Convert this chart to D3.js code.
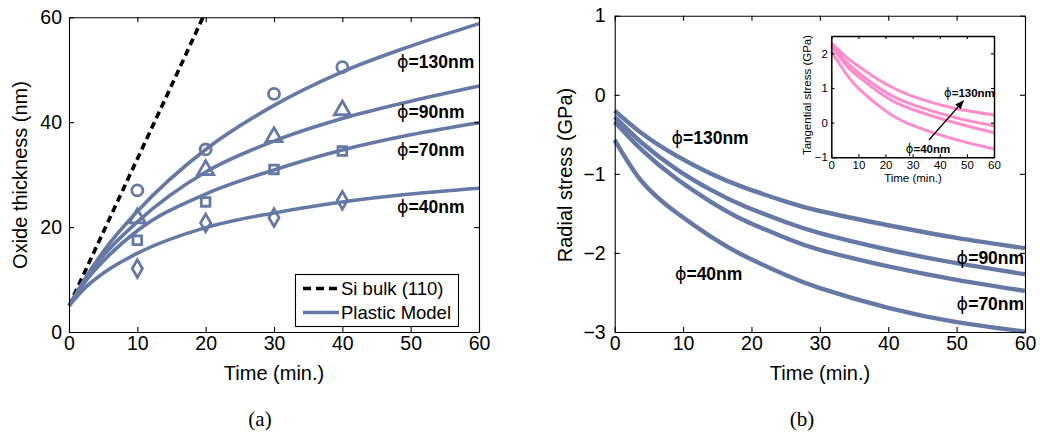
<!DOCTYPE html>
<html>
<head>
<meta charset="utf-8">
<script src="https://cdn.jsdelivr.net/npm/d3@7"></script>
<style>
  body { margin: 0; background: #fff; }
  text { font-family: "Liberation Sans", Arial, sans-serif; fill: #000; }
</style>
</head>
<body>
<div id="chart"></div>
<script>
// ---- data ----
// (a) oxide thickness, plastic model fits
var fitTime = [0, 2.5, 5, 10, 20, 30, 40, 50, 60];
var fit130 = [5, 10.5, 15.3, 23.0, 34.8, 43.2, 49.6, 54.5, 58.8];
var fit90  = [5, 10.2, 14.5, 21.0, 30.5, 36.4, 40.7, 44.0, 46.9];
var fit70  = [5, 9.8, 13.5, 19.3, 26.3, 30.9, 34.7, 37.6, 39.9];
var fit40  = [5, 8.6, 11.2, 15.0, 19.9, 22.7, 24.8, 26.3, 27.4];
// measured points
var expTime = [10, 20, 30, 40];
var exp130 = [27.0, 34.8, 45.4, 50.5];
var exp90  = [21.7, 30.9, 37.2, 42.3];
var exp70  = [17.5, 24.8, 31.0, 34.5];
var exp40  = [12.1, 20.8, 21.8, 25.1];
// Si bulk (110)
var bulkTime = [0, 5, 10, 15, 19.6];
var bulkThk  = [5, 19, 33, 47, 60];

// (b) radial stress
var radTime = [0, 4, 9, 14, 19, 25, 30, 40, 50, 60];
var rad130 = [-0.20, -0.49, -0.77, -0.995, -1.175, -1.35, -1.47, -1.65, -1.81, -1.94];
var rad90  = [-0.28, -0.61, -0.94, -1.20, -1.41, -1.61, -1.75, -1.96, -2.13, -2.27];
var rad70  = [-0.34, -0.70, -1.06, -1.35, -1.59, -1.81, -1.96, -2.17, -2.34, -2.48];
var rad40  = [-0.57, -1.10, -1.49, -1.79, -2.04, -2.28, -2.445, -2.695, -2.875, -2.995];
// inset: tangential stress
var tanTime = [0, 5, 10, 20, 30, 45, 60];
var tan130 = [2.30, 1.93, 1.63, 1.12, 0.76, 0.42, 0.22];
var tan90  = [2.25, 1.80, 1.44, 0.88, 0.52, 0.16, -0.09];
var tan70  = [2.20, 1.70, 1.33, 0.75, 0.38, 0.01, -0.29];
var tan40  = [2.05, 1.46, 0.99, 0.34, -0.08, -0.47, -0.76];

var sizes = ["130nm", "90nm", "70nm", "40nm"];
var xTicks = [0, 10, 20, 30, 40, 50, 60];
var thkTicks = [0, 20, 40, 60];
var radTicks = [-3, -2, -1, 0, 1];
var tanTicks = [-1, 0, 1, 2];

// annotation anchors (data coords)
var labelA = [[48, 51.5], [48, 42.0], [48, 34.7], [48, 23.9]];
var labelB = [[8.3, -0.55], [50, -2.06], [50, -2.64], [8.8, -2.26]];
var labelBText = ["130nm", "90nm", "70nm", "40nm"];
var labelIn = [[41.6, 0.86], [27.5, -0.76]];
var arrowIn = [[36, -0.5], [48.7, 0.63]];

var blue = "#6679a5", pink = "#ff8ccb";

var svg = d3.select("#chart").append("svg")
  .attr("width", 1040).attr("height", 436);

var defs = svg.append("defs");
defs.append("marker").attr("id", "arr")
  .attr("viewBox", "0 0 10 10").attr("refX", 9).attr("refY", 5)
  .attr("markerWidth", 7).attr("markerHeight", 7).attr("orient", "auto")
  .append("path").attr("d", "M0,1L10,5L0,9Z").attr("fill", "#000");

function zip(xs, ys) { return xs.map(function (t, i) { return [t, ys[i]]; }); }

function phiLabel(g, x, y, txt, size) {
  var t = g.append("text").attr("x", x).attr("y", y).attr("dy", "0.35em")
    .attr("font-size", size).attr("font-weight", "bold");
  t.append("tspan").attr("font-weight", "normal")
    .style("font-family", "'DejaVu Sans', sans-serif").text("ϕ");
  t.append("tspan").text("=" + txt);
}

// axes box with inward ticks on all four sides
function frame(g, x, y, xt, yt, fs, tl, ypad) {
  var fmt = d3.format("d");
  g.append("g").attr("transform", "translate(0," + y.range()[0] + ")")
    .call(d3.axisBottom(x).tickValues(xt).tickFormat(fmt).tickSizeInner(-tl).tickSizeOuter(0).tickPadding(4))
    .call(function (a) { a.selectAll("text").attr("font-size", fs).attr("fill", "#000"); });
  g.append("g").attr("transform", "translate(0," + y.range()[1] + ")")
    .call(d3.axisTop(x).tickValues(xt).tickSizeInner(-tl).tickSizeOuter(0).tickFormat(""));
  g.append("g").attr("transform", "translate(" + x.range()[0] + ",0)")
    .call(d3.axisLeft(y).tickValues(yt).tickFormat(fmt).tickSizeInner(-tl).tickSizeOuter(0).tickPadding(ypad))
    .call(function (a) { a.selectAll("text").attr("font-size", fs).attr("fill", "#000"); });
  g.append("g").attr("transform", "translate(" + x.range()[1] + ",0)")
    .call(d3.axisRight(y).tickValues(yt).tickSizeInner(-tl).tickSizeOuter(0).tickFormat(""));
  g.selectAll(".domain, .tick line").attr("stroke", "#000").attr("stroke-width", 1.1);
}

// ================= (a) =================
var xa = d3.scaleLinear().domain([0, 60]).range([69, 479]);
var ya = d3.scaleLinear().domain([0, 60]).range([332, 17.3]);
var ga = svg.append("g");

defs.append("clipPath").attr("id", "clipA").append("rect")
  .attr("x", 69).attr("y", 17.3).attr("width", 410).attr("height", 315);

var lineA = d3.line().x(function (d) { return xa(d[0]); }).y(function (d) { return ya(d[1]); })
  .curve(d3.curveMonotoneX);

ga.append("path").attr("clip-path", "url(#clipA)")
  .attr("d", lineA(zip(bulkTime, bulkThk)))
  .attr("fill", "none").attr("stroke", "#000").attr("stroke-width", 3.6)
  .attr("stroke-dasharray", "7,4.5");

[fit130, fit90, fit70, fit40].forEach(function (s) {
  ga.append("path").attr("d", lineA(zip(fitTime, s)))
    .attr("fill", "none").attr("stroke", blue).attr("stroke-width", 3.6);
});

var shapes = [d3.symbolCircle, d3.symbolTriangle, d3.symbolSquare, d3.symbolDiamond];
var symSize = [95, 110, 75, 90];
[exp130, exp90, exp70, exp40].forEach(function (s, k) {
  ga.selectAll(null).data(zip(expTime, s)).join("path")
    .attr("transform", function (d) { return "translate(" + xa(d[0]) + "," + ya(d[1]) + ")"; })
    .attr("d", d3.symbol().type(shapes[k]).size(symSize[k]))
    .attr("fill", "none").attr("stroke", blue).attr("stroke-width", 2.8);
});

frame(ga, xa, ya, xTicks, thkTicks, "19.5px", 5, 7);

labelA.forEach(function (p, i) { phiLabel(ga, xa(p[0]), ya(p[1]), sizes[i], "17.5px"); });

ga.append("text").attr("x", 274).attr("y", 380).attr("text-anchor", "middle")
  .attr("font-size", "20px").text("Time (min.)");
ga.append("text").attr("transform", "translate(27,175) rotate(-90)").attr("text-anchor", "middle")
  .attr("font-size", "20px").text("Oxide thickness (nm)");

// legend
var lg = ga.append("g");
lg.append("rect").attr("x", 295.5).attr("y", 274.5).attr("width", 163).attr("height", 52)
  .attr("fill", "#fff").attr("stroke", "#000").attr("stroke-width", 1.1);
lg.append("line").attr("x1", 303).attr("x2", 339).attr("y1", 288.5).attr("y2", 288.5)
  .attr("stroke", "#000").attr("stroke-width", 3.6).attr("stroke-dasharray", "8,5");
lg.append("line").attr("x1", 303).attr("x2", 339).attr("y1", 312.5).attr("y2", 312.5)
  .attr("stroke", blue).attr("stroke-width", 3.6);
lg.append("text").attr("x", 341).attr("y", 295).attr("font-size", "18.5px").text("Si bulk (110)");
lg.append("text").attr("x", 341).attr("y", 319).attr("font-size", "18.5px").text("Plastic Model");

svg.append("text").attr("x", 260).attr("y", 426).attr("text-anchor", "middle")
  .style("font-family", "'Liberation Serif', 'Times New Roman', serif").attr("font-size", "21px").text("(a)");

// ================= (b) =================
var xb = d3.scaleLinear().domain([0, 60]).range([614.7, 1025]);
var yb = d3.scaleLinear().domain([-3, 1]).range([332, 15.7]);
var gb = svg.append("g");
var lineB = d3.line().x(function (d) { return xb(d[0]); }).y(function (d) { return yb(d[1]); })
  .curve(d3.curveNatural);

[rad130, rad90, rad70, rad40].forEach(function (s) {
  gb.append("path").attr("d", lineB(zip(radTime, s)))
    .attr("fill", "none").attr("stroke", blue).attr("stroke-width", 4.4);
});

frame(gb, xb, yb, xTicks, radTicks, "19.5px", 5, 9);

labelB.forEach(function (p, i) { phiLabel(gb, xb(p[0]), yb(p[1]), labelBText[i], "17.5px"); });

gb.append("text").attr("x", 820).attr("y", 380).attr("text-anchor", "middle")
  .attr("font-size", "20px").text("Time (min.)");
gb.append("text").attr("transform", "translate(572,175) rotate(-90)").attr("text-anchor", "middle")
  .attr("font-size", "20px").text("Radial stress (GPa)");

svg.append("text").attr("x", 802).attr("y", 426).attr("text-anchor", "middle")
  .style("font-family", "'Liberation Serif', 'Times New Roman', serif").attr("font-size", "21px").text("(b)");

// ---- inset ----
var xi = d3.scaleLinear().domain([0, 60]).range([831.3, 994]);
var yi = d3.scaleLinear().domain([-1, 2.5]).range([157.3, 36]);
var gi = svg.append("g");
gi.append("rect").attr("x", 831.3).attr("y", 36).attr("width", 162.7).attr("height", 121.3).attr("fill", "#fff");
var lineI = d3.line().x(function (d) { return xi(d[0]); }).y(function (d) { return yi(d[1]); })
  .curve(d3.curveNatural);
[tan130, tan90, tan70, tan40].forEach(function (s) {
  gi.append("path").attr("d", lineI(zip(tanTime, s)))
    .attr("fill", "none").attr("stroke", pink).attr("stroke-width", 3);
});
frame(gi, xi, yi, xTicks, tanTicks, "11.5px", 3, 3.5);
gi.selectAll(".domain").attr("stroke-width", 1.5);

gi.append("line")
  .attr("x1", xi(arrowIn[0][0])).attr("y1", yi(arrowIn[0][1]))
  .attr("x2", xi(arrowIn[1][0])).attr("y2", yi(arrowIn[1][1]))
  .attr("stroke", "#000").attr("stroke-width", 1.3).attr("marker-end", "url(#arr)");
phiLabel(gi, xi(labelIn[0][0]), yi(labelIn[0][1]), "130nm", "11.5px");
phiLabel(gi, xi(labelIn[1][0]), yi(labelIn[1][1]), "40nm", "11.5px");

gi.append("text").attr("x", 913).attr("y", 182).attr("text-anchor", "middle")
  .attr("font-size", "11.5px").text("Time (min.)");
gi.append("text").attr("transform", "translate(811,95) rotate(-90)").attr("text-anchor", "middle")
  .attr("font-size", "11.5px").text("Tangential stress (GPa)");
</script>
</body>
</html>
